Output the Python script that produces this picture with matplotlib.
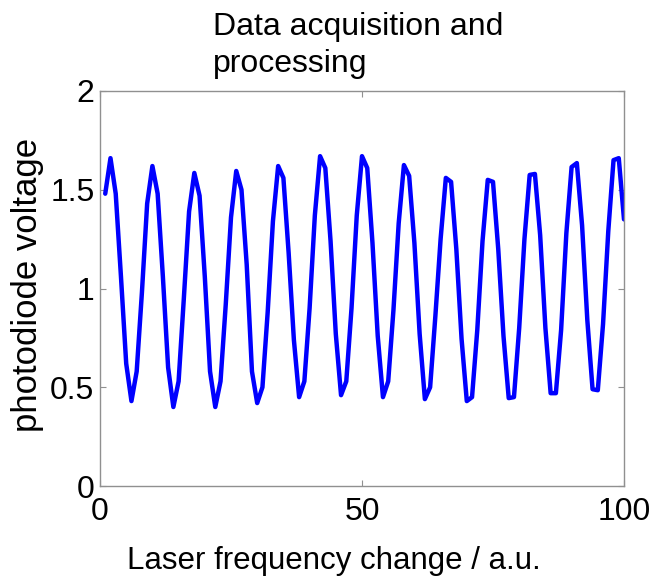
import matplotlib
matplotlib.use("Agg")
import matplotlib.pyplot as plt
import numpy as np

plt.rcParams['font.family'] = ['Liberation Sans', 'DejaVu Sans']

# ---- data ----
sample_index = list(range(1, 101))
photodiode_voltage = [
    1.48, 1.66, 1.48, 1.06, 0.62, 0.43, 0.58, 0.98,
    1.43, 1.62, 1.48, 1.06, 0.60, 0.40, 0.53, 0.95,
    1.39, 1.585, 1.47, 1.06, 0.58, 0.40, 0.53, 0.92,
    1.36, 1.595, 1.50, 1.12, 0.58, 0.42, 0.50, 0.88,
    1.34, 1.62, 1.56, 1.18, 0.74, 0.45, 0.53, 0.90,
    1.37, 1.67, 1.61, 1.24, 0.77, 0.46, 0.53, 0.90,
    1.37, 1.67, 1.61, 1.23, 0.76, 0.45, 0.53, 0.89,
    1.33, 1.625, 1.57, 1.23, 0.77, 0.44, 0.50, 0.86,
    1.25, 1.56, 1.54, 1.20, 0.745, 0.43, 0.45, 0.79,
    1.24, 1.55, 1.54, 1.20, 0.76, 0.445, 0.45, 0.80,
    1.25, 1.575, 1.58, 1.27, 0.80, 0.47, 0.47, 0.79,
    1.28, 1.615, 1.635, 1.32, 0.84, 0.49, 0.485, 0.82,
    1.29, 1.65, 1.66, 1.35,
]
x_ticks = [0, 50, 100]
x_tick_labels = ["0", "50", "100"]
y_ticks = [0, 0.5, 1, 1.5, 2]
y_tick_labels = ["0", "0.5", "1", "1.5", "2"]
title_lines = ["Data acquisition and", "processing"]
x_label = "Laser frequency change / a.u."
y_label = "photodiode voltage"

W, H = 654, 576
fig = plt.figure(figsize=(W / 100, H / 100), dpi=100)
ax = fig.add_axes([100 / W, 1 - 486 / H, (624 - 100) / W, (486 - 91) / H])

ax.plot(sample_index, photodiode_voltage, color="#0000FF", lw=3.2,
        solid_joinstyle="round", solid_capstyle="round")

ax.set_xlim(0, 100)
ax.set_ylim(0, 2)
ax.set_xticks(x_ticks)
ax.set_xticklabels(x_tick_labels)
ax.set_yticks(y_ticks)
ax.set_yticklabels(y_tick_labels)

spine_col = "#909090"
for s in ax.spines.values():
    s.set_color(spine_col)
    s.set_linewidth(1.0)
ax.tick_params(direction="in", length=4, width=0.8, color=spine_col,
               top=True, right=True, labelsize=23, labelcolor="black")
ax.tick_params(axis="x", pad=8)
ax.tick_params(axis="y", pad=4)

# title (left-aligned two-line block)
fig.text(213 / W, 1 - 35 / H, title_lines[0], fontsize=23,
         ha="left", va="baseline")
fig.text(213 / W, 1 - 72 / H, title_lines[1], fontsize=23,
         ha="left", va="baseline")

# axis labels
fig.text(127 / W, 1 - 569 / H, x_label, fontsize=22.5, ha="left",
         va="baseline")
fig.text(28 / W, 1 - 285 / H, y_label, fontsize=25, ha="center",
         va="center", rotation=90)

fig.savefig("out.png", dpi=100)
